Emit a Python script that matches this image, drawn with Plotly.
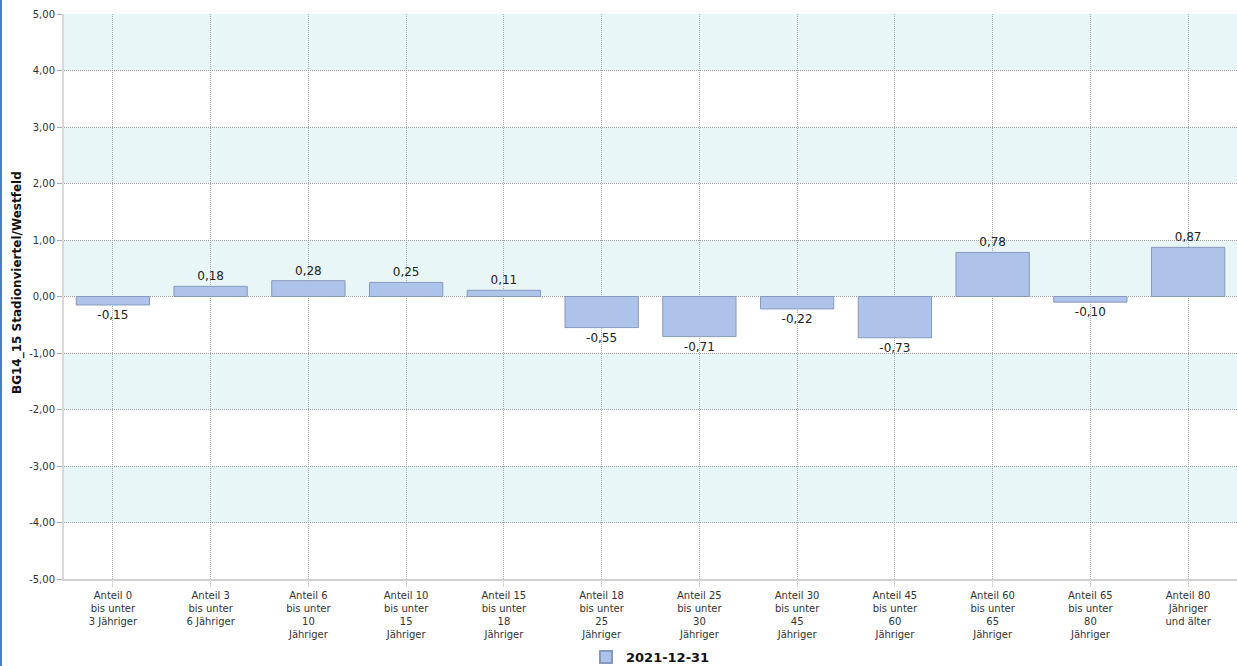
import plotly.graph_objects as go

categories = [
    "Anteil 0<br>bis unter<br>3 Jähriger",
    "Anteil 3<br>bis unter<br>6 Jähriger",
    "Anteil 6<br>bis unter<br>10<br>Jähriger",
    "Anteil 10<br>bis unter<br>15<br>Jähriger",
    "Anteil 15<br>bis unter<br>18<br>Jähriger",
    "Anteil 18<br>bis unter<br>25<br>Jähriger",
    "Anteil 25<br>bis unter<br>30<br>Jähriger",
    "Anteil 30<br>bis unter<br>45<br>Jähriger",
    "Anteil 45<br>bis unter<br>60<br>Jähriger",
    "Anteil 60<br>bis unter<br>65<br>Jähriger",
    "Anteil 65<br>bis unter<br>80<br>Jähriger",
    "Anteil 80<br>Jähriger<br>und älter",
]
values = [-0.15, 0.18, 0.28, 0.25, 0.11, -0.55, -0.71, -0.22, -0.73, 0.78, -0.10, 0.87]
series_name = "2021-12-31"
y_title = "BG14_15 Stadionviertel/Westfeld"
y_ticks = [-5, -4, -3, -2, -1, 0, 1, 2, 3, 4, 5]
band_ranges = [(4, 5), (2, 3), (0, 1), (-2, -1), (-4, -3)]

font_family = "DejaVu Sans"
W, H = 1237, 666
ML, MR, MT, MB = 64, 0, 14, 87
PW, PH = W - ML - MR, H - MT - MB

fig = go.Figure()
fig.add_trace(go.Bar(
    x=categories, y=values, name=series_name,
    marker=dict(color="#aec3ea", line=dict(color="#8799bd", width=1)),
    width=0.75,
    texttemplate="%{y:.2f}", textposition="outside",
    textfont=dict(family=font_family, size=12, color="#222"),
    cliponaxis=False,
    showlegend=True,
))

shapes = []
for y0, y1 in band_ranges:
    shapes.append(dict(type="rect", xref="paper", yref="y", x0=0, x1=1, y0=y0, y1=y1,
                       fillcolor="#e8f6f7", line=dict(width=0), layer="below"))
# left page border
shapes.append(dict(type="rect", xref="paper", yref="paper", x0=-ML / PW, x1=-(ML - 2) / PW,
                   y0=-MB / PH, y1=1 + MT / PH, fillcolor="#4a7fc8", line=dict(width=0)))

tick_text = [f"{v:.2f}".replace(".", ",") for v in y_ticks]

fig.update_layout(
    width=W, height=H,
    margin=dict(l=ML, r=MR, t=MT, b=MB, autoexpand=False),
    paper_bgcolor="white", plot_bgcolor="white",
    separators=",.",
    shapes=shapes,
    font=dict(family=font_family, size=10, color="#333"),
    showlegend=True,
    legend=dict(orientation="h", x=0.5, xanchor="center", xref="paper",
                y=(H - 657) / H, yanchor="middle", yref="container",
                font=dict(family=font_family, size=13, color="#111", weight="bold"),
                itemsizing="constant"),
    annotations=[dict(text="<b>" + y_title + "</b>", textangle=-90, showarrow=False,
                      xref="paper", yref="paper", x=-(ML - 17) / PW, y=(PH + MT - 283) / PH,
                      xanchor="center", yanchor="middle",
                      font=dict(family=font_family, size=12, color="#111"))],
    xaxis=dict(
        showgrid=True, gridcolor="#aaaaaa", griddash="1px,1px", gridwidth=1,
        showline=True, linecolor="#d0d0d0", linewidth=2,
        tickfont=dict(family=font_family, size=10, color="#333"),
        ticks="outside", ticklen=6, tickcolor="#d8d8d8", automargin=False,
        fixedrange=True,
    ),
    yaxis=dict(
        range=[-5, 5], tickvals=y_ticks, ticktext=tick_text,
        showgrid=True, gridcolor="#a0a0a0", griddash="1px,1px", gridwidth=1,
        showline=True, linecolor="#d8d8d8", linewidth=2,
        zeroline=False, automargin=False,
        ticks="outside", ticklen=5, tickcolor="#aaa",
        tickfont=dict(family=font_family, size=10, color="#333"),
    ),
)

fig.write_html("out.html", config={"displayModeBar": False},
               post_script="document.body.style.margin='0';document.body.style.overflow='hidden';")
